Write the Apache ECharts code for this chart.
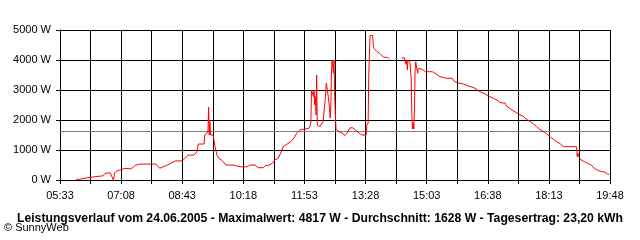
<!DOCTYPE html>
<html><head><meta charset="utf-8">
<script src="https://cdn.jsdelivr.net/npm/echarts@6/dist/echarts.min.js"></script>
<style>html,body{margin:0;padding:0;background:#fff}#c{width:640px;height:240px}</style>
</head><body><div id="c"></div>
<script>
const startTime = '05:33';
const endTime = '19:48';
const yTicks = [0, 1000, 2000, 3000, 4000, 5000];
const average = 1628;
const titleText = 'Leistungsverlauf vom 24.06.2005 - Maximalwert: 4817 W - Durchschnitt: 1628 W - Tagesertrag: 23,20 kWh';
const footerText = '\u00A9 SunnyWeb';
const times = ['05:58','06:00','06:02','06:04','06:20','06:23','06:40','06:43','06:46','06:51','06:54','06:56','06:58','07:02','07:06','07:14','07:22','07:26','07:30','07:37','08:02','08:08','08:13','08:19','08:27','08:33','08:40','08:46','08:52','09:01','09:06','09:08','09:17','09:18','09:20','09:21','09:23','09:24','09:25','09:26','09:27','09:31','09:34','09:37','09:40','09:45','09:48','09:51','10:02','10:05','10:13','10:24','10:28','10:36','10:41','10:49','10:52','10:56','11:03','11:07','11:12','11:17','11:20','11:24','11:27','11:32','11:37','11:41','11:46','11:49','12:00','12:02','12:03','12:04','12:07','12:08','12:09','12:10','12:11','12:12','12:13','12:15','12:17','12:20','12:22','12:25','12:27','12:29','12:30','12:32','12:33','12:34','12:35','12:36','12:38','12:39','12:40','12:42','12:43','12:46','12:51','12:53','12:56','12:59','13:01','13:04','13:08','13:12','13:15','13:18','13:22','13:29','13:30','13:32','13:33','13:35','13:39','13:40','13:41','13:43','13:44','13:46','13:50','13:53','13:56','14:02','14:05','14:06','14:24','14:28','14:29','14:31','14:32','14:33','14:34','14:36','14:37','14:39','14:40','14:41','14:42','14:43','14:44','14:45','14:46','14:47','14:48','14:49','14:50','14:53','14:56','15:01','15:04','15:07','15:12','15:15','15:20','15:24','15:29','15:34','15:43','15:46','15:52','16:00','16:08','16:15','16:21','16:26','16:34','16:39','16:47','16:52','16:57','17:05','17:07','17:12','17:18','17:23','17:28','17:33','17:38','17:44','17:49','17:54','17:59','18:06','18:10','18:15','18:20','18:25','18:31','18:36','18:56','18:57','18:58','19:00','19:03','19:08','19:13','19:19','19:22','19:26','19:30','19:35','19:40','19:44','19:47'];
const watts = [30,40,20,50,90,130,140,220,240,240,200,0,240,310,330,390,370,410,490,530,530,390,440,490,580,640,630,690,830,830,940,1200,1200,1500,1560,1450,1600,2430,1500,1950,1500,1500,1110,830,720,650,610,500,500,470,440,440,500,500,410,410,480,480,550,670,720,940,1110,1170,1220,1280,1410,1560,1670,1720,1720,1830,1920,3000,2780,3000,2500,2780,2170,3500,1830,1830,1780,1780,1950,2610,3220,3220,2780,2400,2070,2400,3560,4000,3560,4000,2780,1720,1780,1610,1580,1520,1480,1560,1620,1740,1740,1670,1620,1560,1500,1500,1830,1900,3500,4817,4817,4500,4390,4420,4330,4280,4220,4170,4090,4090,4040,null,4060,4080,4000,3860,3970,3670,4000,3960,3910,3330,2220,1700,1900,1700,2330,3670,3940,4000,3670,3560,3720,3780,3690,3610,3580,3610,3610,3560,3500,3440,3420,3390,3390,3280,3240,3200,3130,3090,3020,2940,2870,2800,2720,2670,2580,2560,2470,2390,2300,2240,2170,2130,2020,1950,1870,1780,1690,1590,1530,1440,1360,1280,1200,1110,1110,780,900,750,670,610,560,500,420,360,310,280,260,200,180];

function toMin(t){const p=t.split(':');return (+p[0])*60+(+p[1]);}
function fmt(m){const h=Math.floor(m/60), mm=Math.round(m%60);return String(h).padStart(2,'0')+':'+String(mm).padStart(2,'0');}
const t0 = toMin(startTime), t1 = toMin(endTime);
const span = t1 - t0;
const step = span / 18;
const data = times.map((t,i)=>[toMin(t)-t0, watts[i]]);
const FONT = '"Liberation Sans", Arial, sans-serif';

const chart = echarts.init(document.getElementById('c'), null, {renderer:'canvas'});
chart.setOption({
  animation:false,
  backgroundColor:'#ffffff',
  grid:{left:60, right:30, top:30, bottom:60, containLabel:false},
  title:{text:titleText, left:'center', top:208, textStyle:{fontFamily:FONT, fontSize:12.2, fontWeight:'bold', color:'#000'}},
  graphic:[{type:'text', left:4, top:222, style:{text:footerText, font:'11px "Liberation Sans", Arial, sans-serif', fill:'#000'}}],
  xAxis:{type:'value', min:0, max:span, interval:step,
    axisLine:{show:true, lineStyle:{color:'#000', width:1}},
    axisTick:{show:true, length:4, lineStyle:{color:'#000'}},
    splitLine:{show:true, lineStyle:{color:'#000', width:1}},
    axisLabel:{margin:10, fontFamily:FONT, fontSize:11, color:'#000', showMinLabel:true, showMaxLabel:true,
      formatter:function(v){const k=Math.round(v/step);return (k%2===0)?fmt(t0+v):'';}}
  },
  yAxis:{type:'value', min:yTicks[0], max:yTicks[yTicks.length-1], interval:1000,
    axisLine:{show:true, lineStyle:{color:'#000', width:1}},
    axisTick:{show:true, length:4, lineStyle:{color:'#000'}},
    splitLine:{show:true, lineStyle:{color:'#000', width:1}},
    axisLabel:{margin:9, fontFamily:FONT, fontSize:11, color:'#000', formatter:function(v){return v+' W';}}
  },
  series:[{type:'line', data:data, showSymbol:false, connectNulls:false, z:3,
    lineStyle:{color:'#ff0000', width:1}, itemStyle:{color:'#ff0000'},
    markLine:{silent:true, symbol:'none', label:{show:false}, z:2,
      lineStyle:{color:'#808080', type:'solid', width:1},
      data:[{yAxis:average}]}
  }]
});
</script></body></html>
